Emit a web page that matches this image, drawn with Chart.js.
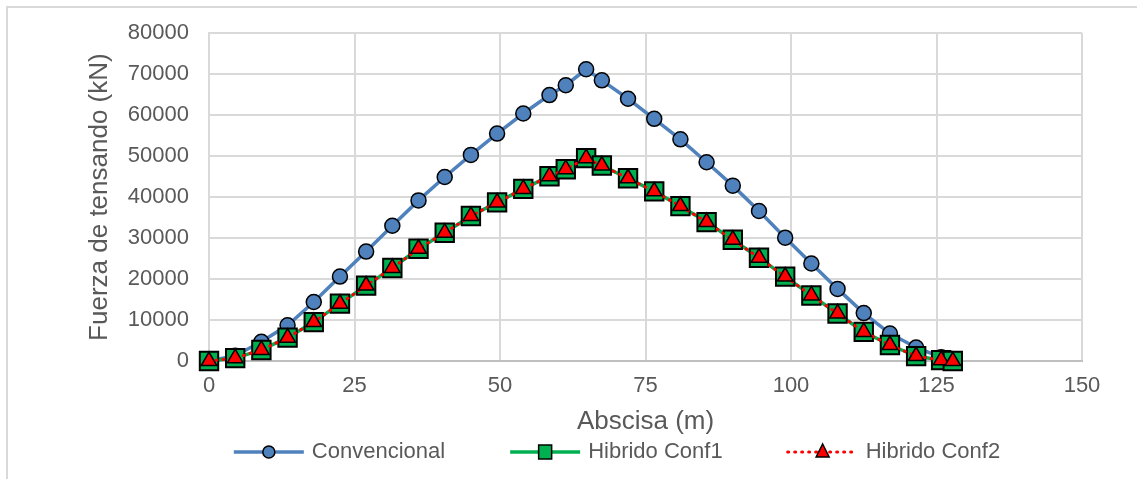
<!DOCTYPE html>
<html>
<head>
<meta charset="utf-8">
<script src="https://cdn.jsdelivr.net/npm/chart.js"></script>
<style>
  html, body { margin: 0; padding: 0; background: #fff; overflow: hidden; }
  #marco { position: absolute; left: 6px; top: 6px; width: 2000px; height: 2000px;
           border-left: 2px solid #d9d9d9; border-top: 2px solid #d9d9d9; }
  #grafico { position: absolute; left: 0; top: 0; }
</style>
</head>
<body>
<div id="marco"></div>
<canvas id="grafico" width="1137" height="479"></canvas>
<script>
// abscisa (m)
const abscisa = [0, 4.5, 9, 13.5, 18, 22.5, 27, 31.5, 36, 40.5, 45, 49.5, 54, 58.5, 61.3, 64.8,
  67.5, 72, 76.5, 81, 85.5, 90, 94.5, 99, 103.5, 108, 112.5, 117, 121.5, 125.8, 127.8];

// fuerza de tensando (kN)
const convencional = [0, 1300, 4700, 8700, 14400, 20600, 26700, 33000, 39200, 44900, 50300, 55500,
  60400, 64900, 67300, 71200, 68500, 64000, 59100, 54100, 48500, 42800, 36600, 30100, 23800,
  17600, 11700, 6700, 3300, 900, 0];
const hibridoConf1 = [0, 700, 2700, 5700, 9500, 14000, 18400, 22700, 27400, 31300, 35400, 38700,
  42000, 45100, 46800, 49500, 47700, 44600, 41400, 37800, 33900, 29600, 25200, 20600, 16000,
  11600, 7100, 3900, 1200, 200, 0];
const hibridoConf2 = [0, 700, 2700, 5700, 9500, 14000, 18400, 22700, 27400, 31300, 35400, 38700,
  42000, 45100, 46800, 49500, 47700, 44600, 41400, 37800, 33900, 29600, 25200, 20600, 16000,
  11600, 7100, 3900, 1200, 200, 0];

const xTicks = [0, 25, 50, 75, 100, 125, 150];
const yTicks = [0, 10000, 20000, 30000, 40000, 50000, 60000, 70000, 80000];

const gris = '#595959';
const fuente = '"Liberation Sans", Arial, sans-serif';

const puntos = (ys) => abscisa.map((x, i) => ({x: x, y: ys[i]}));

// leyenda dibujada a mano: linea + marcador como en Excel
const leyenda = {
  id: 'leyenda',
  afterDraw(chart) {
    const ctx = chart.ctx;
    const cx = 617, cy = 452, symW = 70, gapTxt = 8, gapItem = 65;
    ctx.save();
    ctx.font = '22px ' + fuente;
    const dss = chart.data.datasets;
    const widths = dss.map(d => symW + gapTxt + ctx.measureText(d.label).width);
    const total = widths.reduce((a, b) => a + b, 0) + gapItem * (widths.length - 1);
    let x = cx - total / 2;
    dss.forEach((d, i) => {
      ctx.beginPath();
      ctx.strokeStyle = d.borderColor;
      ctx.lineWidth = d.borderWidth;
      ctx.lineCap = d.borderCapStyle || 'butt';
      ctx.setLineDash(d.borderDash || []);
      ctx.moveTo(x, cy);
      ctx.lineTo(x + symW, cy);
      ctx.stroke();
      ctx.setLineDash([]);
      ctx.lineCap = 'butt';
      const mx = x + symW / 2;
      ctx.fillStyle = d.pointBackgroundColor;
      ctx.strokeStyle = '#000';
      ctx.lineWidth = 1.5;
      ctx.beginPath();
      if (d.pointStyle === 'circle') {
        ctx.arc(mx, cy, 6, 0, Math.PI * 2);
      } else if (d.pointStyle === 'rect') {
        ctx.rect(mx - 6.5, cy - 7, 13, 14);
      } else {
        ctx.moveTo(mx, cy - 8);
        ctx.lineTo(mx + 6.5, cy + 5);
        ctx.lineTo(mx - 6.5, cy + 5);
        ctx.closePath();
      }
      ctx.fill();
      ctx.stroke();
      ctx.fillStyle = gris;
      ctx.textBaseline = 'middle';
      ctx.textAlign = 'left';
      ctx.fillText(d.label, x + symW + gapTxt, cy);
      x += widths[i] + gapItem;
    });
    ctx.restore();
  }
};

new Chart(document.getElementById('grafico'), {
  type: 'line',
  data: {
    datasets: [
      {
        label: 'Convencional',
        data: puntos(convencional),
        borderColor: '#4F81BD',
        borderWidth: 3.5,
        pointStyle: 'circle',
        pointRadius: 7.5,
        pointBackgroundColor: '#4F81BD',
        pointBorderColor: '#000',
        pointBorderWidth: 1.5,
        order: 2,
        clip: false
      },
      {
        label: 'Hibrido Conf1',
        data: puntos(hibridoConf1),
        borderColor: '#00B050',
        borderWidth: 3.5,
        pointStyle: 'rect',
        pointRadius: 13,
        pointBackgroundColor: '#00B050',
        pointBorderColor: '#000',
        pointBorderWidth: 2,
        order: 1,
        clip: false
      },
      {
        label: 'Hibrido Conf2',
        data: puntos(hibridoConf2),
        borderColor: '#FF0000',
        borderWidth: 3,
        borderDash: [1, 6],
        borderCapStyle: 'round',
        pointStyle: 'triangle',
        pointRadius: 9,
        pointBackgroundColor: '#FF0000',
        pointBorderColor: '#000',
        pointBorderWidth: 1.5,
        order: 0,
        clip: false
      }
    ]
  },
  options: {
    responsive: false,
    animation: false,
    devicePixelRatio: 1,
    layout: { padding: { left: 84, right: 55, top: 31, bottom: 42 } },
    plugins: {
      legend: { display: false },
      tooltip: { enabled: false }
    },
    scales: {
      x: {
        type: 'linear',
        min: 0,
        max: 150,
        afterFit: (s) => { s.height = 76; },
        afterBuildTicks: (s) => { s.ticks = xTicks.map(v => ({value: v})); },
        grid: { color: '#d9d9d9', lineWidth: 2, drawTicks: false },
        border: { color: '#bfbfbf', width: 2 },
        ticks: { color: gris, font: { family: fuente, size: 22 }, padding: 12, maxRotation: 0 },
        title: { display: true, text: 'Abscisa (m)', color: gris, font: { family: fuente, size: 26 }, padding: 0 }
      },
      y: {
        min: 0,
        max: 80000,
        afterFit: (s) => { s.width = 125; },
        afterBuildTicks: (s) => { s.ticks = yTicks.map(v => ({value: v})); },
        grid: { color: '#d9d9d9', lineWidth: 2, drawTicks: false },
        border: { color: '#d9d9d9', width: 2 },
        ticks: { color: gris, font: { family: fuente, size: 22 }, padding: 20, callback: (v) => String(v) },
        title: { display: true, text: 'Fuerza de tensando (kN)', color: gris, font: { family: fuente, size: 26 }, padding: 0 }
      }
    }
  },
  plugins: [leyenda]
});
</script>
</body>
</html>
